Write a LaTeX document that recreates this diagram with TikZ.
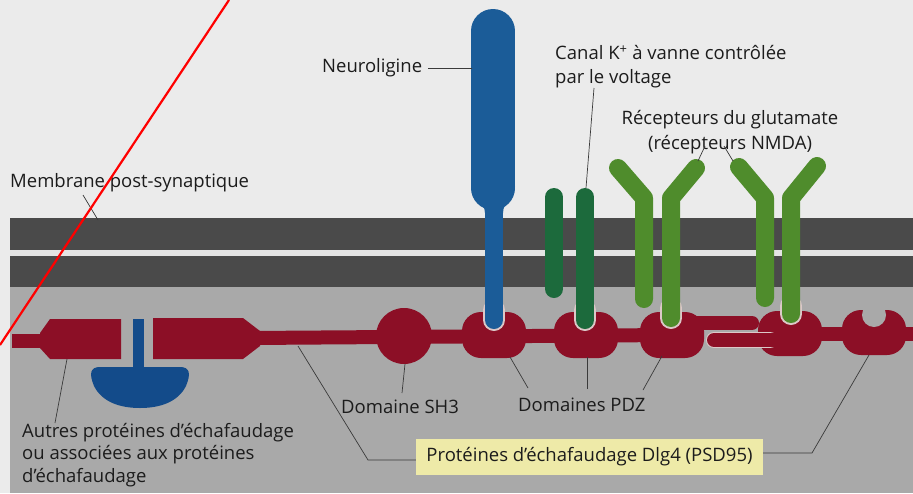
\documentclass[tikz,border=0pt]{standalone}
\usepackage{fontspec}
\setmainfont{Open Sans}
\definecolor{paper}{HTML}{EBEBEB}
\definecolor{lowgray}{HTML}{A9A9A9}
\definecolor{membdark}{HTML}{4A4A4A}
\definecolor{membstrip}{HTML}{E4E4E4}
\definecolor{dred}{HTML}{8C0F26}
\definecolor{nblue}{HTML}{1B5C98}
\definecolor{bblue}{HTML}{134B8A}
\definecolor{kgreen}{HTML}{1C6A3C}
\definecolor{rgreen}{HTML}{4F8C2C}
\definecolor{halo}{HTML}{DCC8C8}
\definecolor{boxyellow}{HTML}{EEEAA8}
\definecolor{txt}{HTML}{1C1C1C}
\definecolor{lead}{HTML}{3A3A3A}
\begin{document}
\begin{tikzpicture}[x=1pt,y=-1pt,
  lbl/.style={inner sep=0pt, text=txt, font=\fontsize{18.5}{24}\selectfont},
  leader/.style={draw=lead, line width=0.7pt},
  chain/.style={draw=dred, line width=14pt},
  pdzdom/.style={fill=dred, rounded corners=19pt},
  stalk/.style={line width=18pt, line cap=round, line join=round},
  haloline/.style={draw=halo, line width=22pt, line cap=round}]
\useasboundingbox (0,0) rectangle (913,493);

% page and cytoplasm background
\fill[paper] (0,0) rectangle (913,493);
\fill[lowgray] (10,287) rectangle (913,493);

% post-synaptic membrane (two leaflets)
\fill[membdark] (10,218) rectangle (913,250);
\fill[membstrip] (10,250) rectangle (913,256);
\fill[membdark] (10,256) rectangle (913,287);

% other scaffold protein on the left
\draw[chain] (12,340.5) -- (45,340.5);
\fill[dred] (40,333) -- (50,319) -- (121,319) -- (121,359) -- (50,359) -- (40,348) -- cycle;
\fill[dred] (153,318) -- (243,318) -- (260,331) -- (260,346) -- (243,359) -- (153,359) -- cycle;
\fill[bblue] (133,319) rectangle (144,370);
\fill[bblue] (100,367) -- (180,367) .. controls (190,367) and (191,374) .. (186,386)
  .. controls (178,402) and (160,408) .. (140,408)
  .. controls (120,408) and (102,402) .. (94,386)
  .. controls (89,374) and (90,367) .. (100,367) -- cycle;

% Dlg4 backbone
\draw[chain] (250,338) -- (672,335);
\draw[chain] (790,334) -- (913,334);
\fill[dred] (404,336) circle[radius=28];

% PDZ domains
\fill[pdzdom] (462,312) rectangle (526,358);
\fill[pdzdom] (554,312) rectangle (618,358);
\fill[pdzdom] (640,312) rectangle (704,358);
\fill[pdzdom] (758,311) rectangle (822,356);
\fill[pdzdom] (842,310) rectangle (906,355);
\fill[lowgray] (874,315) circle[radius=12];

% doubled segment between the third and fourth PDZ
\draw[chain, line cap=round] (690,323) -- (752,323);
\draw[draw=halo, line width=16pt, line cap=round] (714,340) -- (770,340);
\draw[chain, line cap=round] (714,340) -- (780,340);

% neuroligin
\fill[nblue] (471,186) .. controls (471,199) and (485,201) .. (485,213) -- (503,213)
  .. controls (503,201) and (515,199) .. (515,186) -- cycle;
\draw[stalk, nblue, line width=44pt] (493,31) -- (493,188);
\draw[haloline] (494,310) -- (494,320);
\draw[stalk, nblue] (494,205) -- (494,320);

% voltage-gated K+ channel
\draw[stalk, kgreen] (554,197) -- (554,289);
\draw[haloline] (585,310) -- (585,320);
\draw[stalk, kgreen] (585,197) -- (585,320);

% NMDA glutamate receptors
\draw[stalk, rgreen] (618,168) -- (644,198) -- (644,299);
\draw[haloline] (671,308) -- (671,318);
\draw[stalk, rgreen] (696,168) -- (671,198) -- (671,318);
\draw[stalk, rgreen] (739,167) -- (765,198) -- (765,298);
\draw[haloline] (791,306) -- (791,314);
\draw[stalk, rgreen] (817,166) -- (791,198) -- (791,314);

% labels
\node[lbl, anchor=west] (neur) at (322,68) {Neuroligine};
\coordinate (neurP) at (472,68);
\draw[leader] ([xshift=6pt]neur.east) -- (neurP);

\node[lbl, anchor=north west, align=left] (kcan) at (555,45) {Canal K\textsuperscript{+} à vanne contrôlée\\par le voltage};
\coordinate (kcanA) at (594,88);
\coordinate (kcanB) at (586,188);
\draw[leader] (kcanA) -- (kcanB);

\node[lbl, align=center, font=\fontsize{18.5}{25}\selectfont] (glu) at (730,132) {Récepteurs du glutamate\\(récepteurs NMDA)};
\coordinate (gluA) at (705,146);
\coordinate (gluB) at (698,161);
\coordinate (gluC) at (724,146);
\coordinate (gluD) at (733,161);
\draw[leader] (gluA) -- (gluB);
\draw[leader] (gluC) -- (gluD);

\node[lbl, anchor=west] (memb) at (10,183) {Membrane post-synaptique};
\coordinate (membA) at (83,195);
\coordinate (membB) at (98,220);
\draw[leader] (membA) -- (membB);

\node[lbl, anchor=west] (sh3) at (341,407) {Domaine SH3};
\coordinate (sh3P) at (405,364);
\draw[leader] (402,393) -- (sh3P);

\node[lbl, anchor=west] (pdz) at (518,405) {Domaines PDZ};
\coordinate (pdz1) at (510,357);
\coordinate (pdz2) at (587,357);
\coordinate (pdz3) at (662,356);
\draw[leader] (528,388) -- (pdz1);
\draw[leader] (587,389) -- (pdz2);
\draw[leader] (643,390) -- (pdz3);

\node[lbl, fill=boxyellow, minimum width=347pt, minimum height=36pt] (dlg) at (589.5,457) {Protéines d’échafaudage Dlg4 (PSD95)};
\coordinate (dlgL) at (368,460);
\coordinate (dlgLP) at (298,346);
\coordinate (dlgR) at (812,453);
\coordinate (dlgRP) at (869,355);
\draw[leader] ([yshift=-3pt]dlg.west) -- (dlgL) -- (dlgLP);
\draw[leader] ([yshift=4pt]dlg.east) -- (dlgR) -- (dlgRP);

\node[lbl, anchor=north west, align=left, font=\fontsize{18.5}{22.5}\selectfont] (autres) at (22,423) {Autres protéines d’échafaudage\\ou associées aux protéines\\d’échafaudage};
\coordinate (autresP) at (67,359);
\draw[leader] (55,423) -- (autresP);

% pen stroke across the upper left
\coordinate (penA) at (229,0);
\coordinate (penB) at (0,345);
\draw[red, line width=2.2pt] (penA) -- (penB);
\end{tikzpicture}
\end{document}
